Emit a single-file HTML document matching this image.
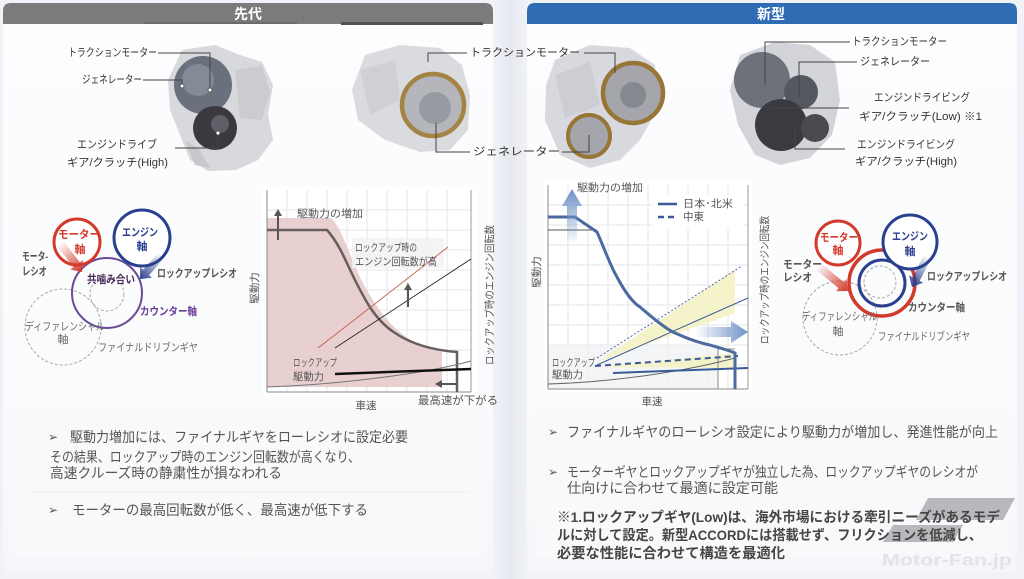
<!DOCTYPE html>
<html><head><meta charset="utf-8">
<style>
html,body{margin:0;padding:0;background:#eef0f5;}
svg{display:block;}
text{font-family:"Liberation Sans","Noto Sans CJK JP",sans-serif;}
</style></head>
<body>
<svg width="1024" height="579" viewBox="0 0 1024 579" xmlns="http://www.w3.org/2000/svg">
<defs>
  <linearGradient id="bgmid" x1="0" y1="0" x2="1" y2="0">
    <stop offset="0" stop-color="#f3f4f8"/><stop offset="0.5" stop-color="#e6e8f0"/><stop offset="1" stop-color="#f3f4f8"/>
  </linearGradient>
  <linearGradient id="panelfade" x1="0" y1="0" x2="0" y2="1">
    <stop offset="0" stop-color="#fdfdfe"/><stop offset="0.7" stop-color="#fafbfc"/><stop offset="1" stop-color="#f5f6f9"/>
  </linearGradient>
  <linearGradient id="redarL" gradientUnits="userSpaceOnUse" x1="60" y1="243" x2="82" y2="272">
    <stop offset="0" stop-color="#d33a2c" stop-opacity="0"/><stop offset="1" stop-color="#d33a2c"/>
  </linearGradient>
  <linearGradient id="bluarL" gradientUnits="userSpaceOnUse" x1="162" y1="255" x2="140" y2="279">
    <stop offset="0" stop-color="#2a3f8f" stop-opacity="0"/><stop offset="1" stop-color="#2a3f8f"/>
  </linearGradient>
  <linearGradient id="redarR" gradientUnits="userSpaceOnUse" x1="818" y1="266" x2="848" y2="291">
    <stop offset="0" stop-color="#d33a2c" stop-opacity="0"/><stop offset="1" stop-color="#d33a2c"/>
  </linearGradient>
  <linearGradient id="bluarR" gradientUnits="userSpaceOnUse" x1="928" y1="256" x2="912" y2="287">
    <stop offset="0" stop-color="#2a3f8f" stop-opacity="0"/><stop offset="1" stop-color="#2a3f8f"/>
  </linearGradient>
  <linearGradient id="upar" gradientUnits="userSpaceOnUse" x1="0" y1="190" x2="0" y2="244">
    <stop offset="0" stop-color="#6f93c6"/><stop offset="1" stop-color="#6f93c6" stop-opacity="0"/>
  </linearGradient>
  <linearGradient id="rtar" gradientUnits="userSpaceOnUse" x1="695" y1="0" x2="748" y2="0">
    <stop offset="0" stop-color="#6f93c6" stop-opacity="0"/><stop offset="1" stop-color="#6f93c6"/>
  </linearGradient>
</defs>

<rect x="0" y="0" width="1024" height="579" fill="#f1f2f7"/>
<rect x="490" y="0" width="40" height="579" fill="url(#bgmid)"/>

<rect x="3" y="3" width="490" height="570" rx="8" fill="url(#panelfade)"/>
<rect x="527" y="3" width="490" height="570" rx="8" fill="url(#panelfade)"/>
<rect x="10" y="408" width="476" height="150" fill="#f8f9fb"/>
<rect x="534" y="408" width="476" height="150" fill="#f8f9fb"/>
<line x1="30" y1="492" x2="470" y2="492" stroke="#eceef2" stroke-width="1"/>

<path d="M3,24 V11 Q3,3 11,3 H485 Q493,3 493,11 V24 Z" fill="#7b7b7b"/>
<rect x="144" y="22" width="153" height="2" fill="#6a6a6a"/>
<rect x="341" y="22" width="142" height="3" fill="#505050"/>
<text x="248" y="14" font-size="14" font-weight="bold" fill="#fff" text-anchor="middle" dominant-baseline="central">先代</text>
<path d="M527,24 V11 Q527,3 535,3 H1009 Q1017,3 1017,11 V24 Z" fill="#2e6cb4"/>
<text x="771" y="14" font-size="14" font-weight="bold" fill="#fff" text-anchor="middle" dominant-baseline="central">新型</text>

<!-- left photo 1 -->
<polygon points="182,50 215,45 240,55 262,62 273,85 268,115 273,140 258,160 236,170 208,171 190,160 180,135 170,110 168,80" fill="#d8d9dd"/>
<polygon points="235,70 262,66 270,92 262,120 240,118" fill="#cbccd1"/>
<polygon points="185,140 200,150 210,168 195,165" fill="#c7c8ce"/>
<circle cx="203" cy="85" r="29" fill="#6a717c"/>
<circle cx="198" cy="80" r="16" fill="#838b96"/>
<circle cx="215" cy="128" r="22" fill="#3b383f"/>
<circle cx="220" cy="124" r="9" fill="#625e68"/>
<!-- left photo 2 -->
<polygon points="365,55 400,45 440,48 462,65 470,95 468,130 450,150 420,152 385,140 358,120 352,90" fill="#dadbdf"/>
<polygon points="360,70 395,60 400,100 370,115" fill="#cfd0d5"/>
<circle cx="433" cy="105" r="31" fill="#b4b6bb" stroke="#a58342" stroke-width="4.5"/>
<circle cx="435" cy="108" r="16" fill="#979aa0"/>
<!-- right photo 1 -->
<polygon points="555,60 590,45 630,48 655,65 657,110 640,140 620,160 590,168 560,155 545,120 546,85" fill="#d8d9de"/>
<polygon points="555,75 590,62 600,105 565,118" fill="#cdced3"/>
<circle cx="633" cy="93" r="30" fill="#a4a6ac" stroke="#977537" stroke-width="4.5"/>
<circle cx="633" cy="95" r="13" fill="#85888f"/>
<circle cx="589" cy="136" r="21" fill="#a4a6ac" stroke="#977537" stroke-width="4"/>
<!-- right photo 2 -->
<polygon points="740,55 775,42 810,45 835,62 840,100 832,135 810,158 780,165 755,155 738,125 730,90" fill="#d3d4d9"/>
<circle cx="762" cy="80" r="28" fill="#6d727a"/>
<circle cx="801" cy="92" r="17" fill="#55585e"/>
<circle cx="781" cy="125" r="26" fill="#3a3b41"/>
<circle cx="815" cy="128" r="14" fill="#4a4b51"/>

<g stroke="#444" stroke-width="1" fill="none">
  <polyline points="158,53 210,53 210,90"/>
  <polyline points="143,80 182,80 182,86"/>
  <polyline points="175,148 218,148 218,133"/>
  <polyline points="428,62 428,53 467,53"/>
  <polyline points="584,53 615,53 615,73"/>
  <polyline points="436,123 436,152 470,152"/>
  <polyline points="562,152 589,152 589,135"/>
  <polyline points="765,85 765,42 850,42"/>
  <polyline points="799,97 799,62 857,62"/>
  <polyline points="769,108 849,108"/>
  <polyline points="795,127 795,149 845,149"/>
</g>
<g fill="#fff" stroke="#444" stroke-width="0.8">
  <circle cx="210" cy="90" r="2"/><circle cx="182" cy="86" r="2"/><circle cx="218" cy="133" r="2"/>
</g>

<g font-size="11" fill="#333" dominant-baseline="central">
  <text x="68" y="53" textLength="89" lengthAdjust="spacingAndGlyphs">トラクションモーター</text>
  <text x="82" y="80" textLength="60" lengthAdjust="spacingAndGlyphs">ジェネレーター</text>
  <text x="77" y="145" textLength="80" lengthAdjust="spacingAndGlyphs">エンジンドライブ</text>
  <text x="67" y="163" textLength="101" lengthAdjust="spacingAndGlyphs">ギア/クラッチ(High)</text>
  <text x="470" y="53" textLength="110" lengthAdjust="spacingAndGlyphs">トラクションモーター</text>
  <text x="473" y="152" textLength="87" lengthAdjust="spacingAndGlyphs">ジェネレーター</text>
  <text x="852" y="42" textLength="95" lengthAdjust="spacingAndGlyphs">トラクションモーター</text>
  <text x="860" y="62" textLength="70" lengthAdjust="spacingAndGlyphs">ジェネレーター</text>
  <text x="874" y="98" textLength="96" lengthAdjust="spacingAndGlyphs">エンジンドライビング</text>
  <text x="859" y="117" textLength="123" lengthAdjust="spacingAndGlyphs">ギア/クラッチ(Low) ※1</text>
  <text x="857" y="145" textLength="98" lengthAdjust="spacingAndGlyphs">エンジンドライビング</text>
  <text x="855" y="162" textLength="102" lengthAdjust="spacingAndGlyphs">ギア/クラッチ(High)</text>
</g>

<!-- left gear diagram -->
<circle cx="63" cy="327" r="38" fill="none" stroke="#a8a8ae" stroke-width="1" stroke-dasharray="3,2"/>
<circle cx="107" cy="293" r="35" fill="none" stroke="#6a4a9a" stroke-width="2"/>
<circle cx="107" cy="294" r="17" fill="none" stroke="#a8a8ae" stroke-width="1" stroke-dasharray="3,2"/>
<circle cx="77" cy="242" r="23" fill="#fff" stroke="#d33a2c" stroke-width="3"/>
<circle cx="142" cy="238" r="28" fill="#fff" stroke="#2a3f8f" stroke-width="3"/>
<polygon points="63.2,240.6 79.8,262.4 83,260 82,272 70.2,269.6 73.4,267.2 56.8,245.4" fill="url(#redarL)"/>
<polygon points="164.9,257.7 149,275.1 152,277.8 140,279 140.2,267 143.2,269.7 159.1,252.3" fill="url(#bluarL)"/>
<g font-size="11" dominant-baseline="central" font-weight="bold">
  <text x="58" y="235" fill="#d33a2c" textLength="42" lengthAdjust="spacingAndGlyphs">モーター</text>
  <text x="80" y="250" fill="#d33a2c" text-anchor="middle">軸</text>
  <text x="122" y="233" fill="#2a3f8f" textLength="36" lengthAdjust="spacingAndGlyphs">エンジン</text>
  <text x="142" y="247" fill="#2a3f8f" text-anchor="middle">軸</text>
  <text x="22" y="257" fill="#555" textLength="26" lengthAdjust="spacingAndGlyphs">モータ-</text>
  <text x="22" y="272" fill="#555" textLength="25" lengthAdjust="spacingAndGlyphs">レシオ</text>
  <text x="87" y="280" fill="#4a2a5a" textLength="48" lengthAdjust="spacingAndGlyphs">共噛み合い</text>
  <text x="157" y="274" fill="#555" textLength="80" lengthAdjust="spacingAndGlyphs">ロックアップレシオ</text>
  <text x="140" y="312" fill="#6a3a9a" textLength="57" lengthAdjust="spacingAndGlyphs">カウンター軸</text>
</g>
<g font-size="11" dominant-baseline="central" fill="#6a6a6a">
  <text x="25" y="327" textLength="80" lengthAdjust="spacingAndGlyphs">ディファレンシャル</text>
  <text x="63" y="340" text-anchor="middle">軸</text>
  <text x="98" y="348" textLength="100" lengthAdjust="spacingAndGlyphs">ファイナルドリブンギヤ</text>
</g>

<!-- right gear diagram -->
<circle cx="840" cy="318" r="37" fill="none" stroke="#a8a8ae" stroke-width="1" stroke-dasharray="3,2"/>
<circle cx="882" cy="283" r="33" fill="none" stroke="#d33a2c" stroke-width="3.5"/>
<circle cx="882" cy="283" r="23" fill="none" stroke="#2a3f8f" stroke-width="3"/>
<circle cx="880" cy="282" r="16" fill="none" stroke="#a8a8ae" stroke-width="1" stroke-dasharray="3,2"/>
<circle cx="838" cy="243" r="22" fill="#fff" stroke="#d33a2c" stroke-width="3"/>
<circle cx="910" cy="242" r="27" fill="#fff" stroke="#2a3f8f" stroke-width="3"/>
<polygon points="820.6,262.9 843.7,282.1 846.2,279.1 848,291 836,291.3 838.5,288.3 815.4,269.1" fill="url(#redarR)"/>
<polygon points="931.6,257.8 919.7,280.8 923.2,282.7 912,287 909,275.3 912.5,277.2 924.4,254.2" fill="url(#bluarR)"/>
<g font-size="11" dominant-baseline="central" font-weight="bold">
  <text x="820" y="238" fill="#d33a2c" textLength="38" lengthAdjust="spacingAndGlyphs">モーター</text>
  <text x="838" y="251" fill="#d33a2c" text-anchor="middle">軸</text>
  <text x="892" y="237" fill="#2a3f8f" textLength="36" lengthAdjust="spacingAndGlyphs">エンジン</text>
  <text x="910" y="252" fill="#2a3f8f" text-anchor="middle">軸</text>
  <text x="783" y="265" fill="#555" textLength="39" lengthAdjust="spacingAndGlyphs">モーター</text>
  <text x="783" y="278" fill="#555" textLength="29" lengthAdjust="spacingAndGlyphs">レシオ</text>
  <text x="927" y="277" fill="#555" textLength="80" lengthAdjust="spacingAndGlyphs">ロックアップレシオ</text>
  <text x="908" y="308" fill="#555" textLength="57" lengthAdjust="spacingAndGlyphs">カウンター軸</text>
</g>
<g font-size="11" dominant-baseline="central" fill="#6a6a6a">
  <text x="802" y="317" textLength="75" lengthAdjust="spacingAndGlyphs">ディファレンシャル</text>
  <text x="838" y="332" text-anchor="middle">軸</text>
  <text x="878" y="337" textLength="92" lengthAdjust="spacingAndGlyphs">ファイナルドリブンギヤ</text>
</g>

<!-- left chart -->
<rect x="262" y="186" width="216" height="210" fill="#fff"/>
<g stroke="#e6e6e8" stroke-width="1">
  <line x1="287" y1="190" x2="287" y2="392"/><line x1="307" y1="190" x2="307" y2="392"/>
  <line x1="327" y1="190" x2="327" y2="392"/><line x1="347" y1="190" x2="347" y2="392"/>
  <line x1="367" y1="190" x2="367" y2="392"/><line x1="387" y1="190" x2="387" y2="392"/>
  <line x1="407" y1="190" x2="407" y2="392"/><line x1="427" y1="190" x2="427" y2="392"/>
  <line x1="447" y1="190" x2="447" y2="392"/>
  <line x1="267" y1="210" x2="471" y2="210"/><line x1="267" y1="230" x2="471" y2="230"/>
  <line x1="267" y1="250" x2="471" y2="250"/><line x1="267" y1="270" x2="471" y2="270"/>
  <line x1="267" y1="290" x2="471" y2="290"/><line x1="267" y1="310" x2="471" y2="310"/>
  <line x1="267" y1="330" x2="471" y2="330"/><line x1="267" y1="350" x2="471" y2="350"/>
  <line x1="267" y1="370" x2="471" y2="370"/>
</g>
<path d="M267,218 L331,218 C345,232 350,262 368,292 C382,316 398,336 426,348 L442,352 L442,387 L267,387 Z" fill="#e5c8c8" opacity="0.85"/>
<rect x="352" y="238" width="92" height="30" fill="#f2f2f3" opacity="0.85"/>
<line x1="267" y1="190" x2="267" y2="392" stroke="#888" stroke-width="1"/>
<line x1="471" y1="190" x2="471" y2="392" stroke="#999" stroke-width="1"/>
<line x1="267" y1="392" x2="471" y2="392" stroke="#888" stroke-width="1"/>
<path d="M267,230 L327,230 C340,245 345,260 355,280 C365,300 375,320 395,333 C410,343 430,350 457,352 L457,392" fill="none" stroke="#675e5e" stroke-width="2.5"/>
<line x1="318" y1="348" x2="448" y2="247" stroke="#c0604f" stroke-width="0.9"/>
<line x1="335" y1="348" x2="471" y2="259" stroke="#222" stroke-width="0.9"/>
<path d="M267,387 C330,385 420,375 471,361" fill="none" stroke="#777" stroke-width="1"/>
<line x1="335" y1="374" x2="471" y2="369" stroke="#111" stroke-width="2.5"/>
<g fill="#555" stroke="#555">
  <line x1="278" y1="240" x2="278" y2="215" stroke-width="2"/>
  <polygon points="274,216 282,216 278,209" stroke="none"/>
  <line x1="408" y1="307" x2="408" y2="289" stroke-width="2"/>
  <polygon points="404,290 412,290 408,283" stroke="none"/>
  <line x1="457" y1="384" x2="441" y2="384" stroke-width="2"/>
  <polygon points="442,380 442,388 435,384" stroke="none"/>
</g>
<g font-size="10.5" fill="#555" dominant-baseline="central">
  <text x="297" y="214" textLength="66" lengthAdjust="spacingAndGlyphs">駆動力の増加</text>
  <text x="355" y="248" textLength="62" lengthAdjust="spacingAndGlyphs">ロックアップ時の</text>
  <text x="355" y="262" textLength="82" lengthAdjust="spacingAndGlyphs">エンジン回転数が高</text>
  <text x="293" y="363" textLength="44" lengthAdjust="spacingAndGlyphs">ロックアップ</text>
  <text x="293" y="377" textLength="31" lengthAdjust="spacingAndGlyphs">駆動力</text>
  <text x="418" y="401" textLength="80" lengthAdjust="spacingAndGlyphs" font-size="11">最高速が下がる</text>
  <text x="366" y="406" text-anchor="middle">車速</text>
  <text transform="translate(255,288) rotate(-90)" text-anchor="middle">駆動力</text>
  <text transform="translate(490,295) rotate(-90)" text-anchor="middle" textLength="140" lengthAdjust="spacingAndGlyphs">ロックアップ時のエンジン回転数</text>
</g>

<!-- right chart -->
<rect x="544" y="182" width="208" height="210" fill="#fff"/>
<g stroke="#e6e6e8" stroke-width="1">
  <line x1="568" y1="185" x2="568" y2="389"/><line x1="588" y1="185" x2="588" y2="389"/>
  <line x1="608" y1="185" x2="608" y2="389"/><line x1="628" y1="185" x2="628" y2="389"/>
  <line x1="648" y1="185" x2="648" y2="389"/><line x1="668" y1="185" x2="668" y2="389"/>
  <line x1="688" y1="185" x2="688" y2="389"/><line x1="708" y1="185" x2="708" y2="389"/>
  <line x1="728" y1="185" x2="728" y2="389"/>
  <line x1="548" y1="205" x2="748" y2="205"/><line x1="548" y1="225" x2="748" y2="225"/>
  <line x1="548" y1="245" x2="748" y2="245"/><line x1="548" y1="265" x2="748" y2="265"/>
  <line x1="548" y1="285" x2="748" y2="285"/><line x1="548" y1="305" x2="748" y2="305"/>
  <line x1="548" y1="325" x2="748" y2="325"/><line x1="548" y1="345" x2="748" y2="345"/>
  <line x1="548" y1="365" x2="748" y2="365"/>
</g>
<rect x="548" y="345" width="170" height="44" fill="#f1f2f4" opacity="0.8"/>
<polygon points="597,362 735,270 735,313" fill="#f4f2c4" opacity="0.9"/>
<polygon points="597,367 735,353 735,368" fill="#f4f2c4" opacity="0.9"/>
<line x1="548" y1="185" x2="548" y2="389" stroke="#888" stroke-width="1"/>
<line x1="748" y1="185" x2="748" y2="389" stroke="#999" stroke-width="1"/>
<line x1="548" y1="389" x2="748" y2="389" stroke="#888" stroke-width="1"/>
<line x1="548" y1="230" x2="597" y2="230" stroke="#555" stroke-width="1"/>
<line x1="718" y1="347" x2="718" y2="389" stroke="#888" stroke-width="1"/>
<line x1="718" y1="349" x2="735" y2="349" stroke="#888" stroke-width="1"/>
<path d="M548,384 C620,382 690,370 735,358" fill="none" stroke="#666" stroke-width="1"/>
<line x1="597" y1="358" x2="742" y2="266" stroke="#3a5a9a" stroke-width="0.9" stroke-dasharray="2,2"/>
<line x1="597" y1="365" x2="748" y2="298" stroke="#3a5a9a" stroke-width="1"/>
<line x1="595" y1="366" x2="738" y2="356" stroke="#3a5a9a" stroke-width="2" stroke-dasharray="6,4"/>
<line x1="613" y1="373" x2="748" y2="368" stroke="#3a5a9a" stroke-width="2"/>
<path d="M548,217 L575,217 L597,232 C605,250 610,265 617,277 C625,292 632,302 640,307 C655,320 665,328 673,332 C690,340 700,343 710,345 C720,348 728,350 735,353 L735,389" fill="none" stroke="#4a6aa0" stroke-width="3"/>
<polygon points="567,244 567,206 562,206 572,189 582,206 577,206 577,244" fill="url(#upar)"/>
<polygon points="695,327 731,327 731,321 748,332 731,343 731,337 695,337" fill="url(#rtar)"/>
<rect x="652" y="195" width="92" height="34" fill="#fff"/>
<line x1="658" y1="204" x2="677" y2="204" stroke="#3a5a9a" stroke-width="2.5"/>
<line x1="658" y1="217" x2="677" y2="217" stroke="#3a5a9a" stroke-width="2.5" stroke-dasharray="6,4"/>
<g font-size="10.5" fill="#555" dominant-baseline="central">
  <text x="683" y="204" textLength="50" lengthAdjust="spacingAndGlyphs">日本･北米</text>
  <text x="683" y="217">中東</text>
  <text x="577" y="188" textLength="66" lengthAdjust="spacingAndGlyphs">駆動力の増加</text>
  <text x="552" y="363" textLength="43" lengthAdjust="spacingAndGlyphs">ロックアップ</text>
  <text x="552" y="375" textLength="31" lengthAdjust="spacingAndGlyphs">駆動力</text>
  <text x="652" y="402" text-anchor="middle">車速</text>
  <text transform="translate(537,272) rotate(-90)" text-anchor="middle">駆動力</text>
  <text transform="translate(765,280) rotate(-90)" text-anchor="middle" textLength="128" lengthAdjust="spacingAndGlyphs">ロックアップ時のエンジン回転数</text>
</g>

<!-- bottom texts left -->
<g font-size="14" fill="#555" dominant-baseline="central">
  <text x="48" y="437" font-size="12">➢</text>
  <text x="70" y="437" textLength="338" lengthAdjust="spacingAndGlyphs">駆動力増加には、ファイナルギヤをローレシオに設定必要</text>
  <text x="50" y="457" textLength="310" lengthAdjust="spacingAndGlyphs">その結果、ロックアップ時のエンジン回転数が高くなり、</text>
  <text x="50" y="473" textLength="232" lengthAdjust="spacingAndGlyphs">高速クルーズ時の静粛性が損なわれる</text>
  <text x="48" y="510" font-size="12">➢</text>
  <text x="72" y="510" textLength="296" lengthAdjust="spacingAndGlyphs">モーターの最高回転数が低く、最高速が低下する</text>
</g>

<!-- bottom texts right -->
<g font-size="14" fill="#555" dominant-baseline="central">
  <text x="548" y="432" font-size="12">➢</text>
  <text x="567" y="432" textLength="431" lengthAdjust="spacingAndGlyphs">ファイナルギヤのローレシオ設定により駆動力が増加し、発進性能が向上</text>
  <text x="548" y="472" font-size="12">➢</text>
  <text x="567" y="472" textLength="411" lengthAdjust="spacingAndGlyphs">モーターギヤとロックアップギヤが独立した為、ロックアップギヤのレシオが</text>
  <text x="567" y="488" textLength="211" lengthAdjust="spacingAndGlyphs">仕向けに合わせて最適に設定可能</text>
</g>

<polygon points="928,498 1015,498 1003,520 916,520" fill="#8e8e92" opacity="0.6"/>
<polygon points="893,525 963,525 953,542 883,542" fill="#8e8e92" opacity="0.6"/>

<g font-size="14" fill="#454545" font-weight="bold" dominant-baseline="central">
  <text x="557" y="517" textLength="443" lengthAdjust="spacingAndGlyphs">※1.ロックアップギヤ(Low)は、海外市場における牽引ニーズがあるモデ</text>
  <text x="557" y="535" textLength="425" lengthAdjust="spacingAndGlyphs">ルに対して設定。新型ACCORDには搭載せず、フリクションを低減し、</text>
  <text x="557" y="553" textLength="228" lengthAdjust="spacingAndGlyphs">必要な性能に合わせて構造を最適化</text>
</g>
<text x="882" y="560" font-size="17" fill="#e2e3e8" font-weight="bold" dominant-baseline="central" textLength="130" lengthAdjust="spacingAndGlyphs">Motor-Fan.jp</text>
</svg>
</body></html>
